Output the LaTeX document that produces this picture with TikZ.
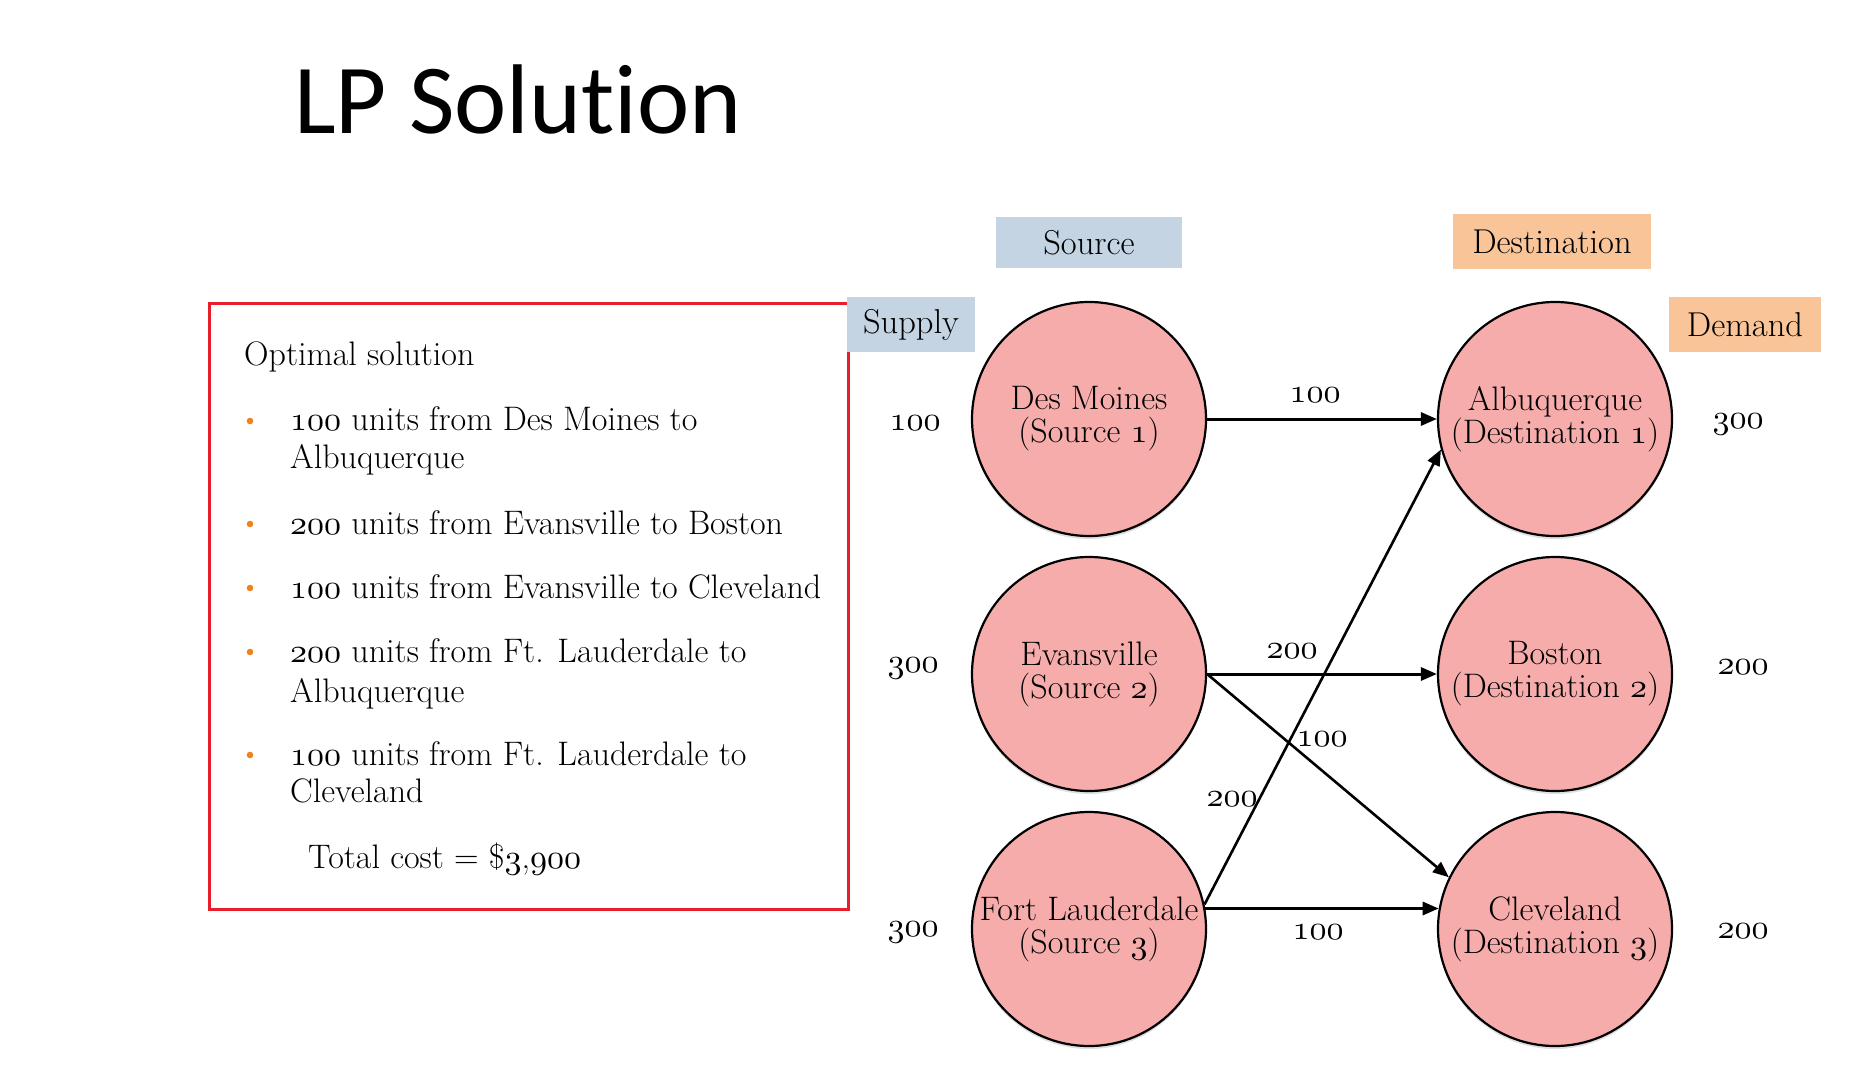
\documentclass[tikz,border=0pt]{standalone}
\usepackage{fontspec}
\newfontfamily\titlefont{Carlito}[Ligatures={NoCommon}]
\usetikzlibrary{arrows.meta,shadows}
\DeclareFontFamily{OML}{myosn}{\skewchar\font127 }
\DeclareFontShape{OML}{myosn}{m}{it}{<-> cmmi10}{}
\DeclareRobustCommand\osn[1]{{\usefont{OML}{myosn}{m}{it}#1}}
\definecolor{nodepink}{RGB}{247,172,172}
\definecolor{hdrblue}{RGB}{196,212,227}
\definecolor{hdrpeach}{RGB}{248,196,152}
\definecolor{boxred}{RGB}{232,30,40}
\definecolor{bulletorange}{RGB}{240,130,30}
\tikzset{
  body/.style={anchor=base west, inner sep=0pt, font=\fontsize{34}{38}\selectfont},
  place/.style={circle, draw=black, line width=2.2pt, fill=nodepink, minimum size=234pt, inner sep=0pt,
    align=center, font=\fontsize{34}{33}\selectfont,
    drop shadow={opacity=0.25, shadow xshift=0pt, shadow yshift=-3pt}},
  hdrbox/.style={inner sep=0pt, font=\fontsize{34.5}{34}\selectfont},
  numlab/.style={inner sep=0pt, font=\fontsize{34}{34}\selectfont},
  flow/.style={line width=3pt, -{Triangle[length=16pt,width=13pt]}},
  diagflow/.style={line width=2.6pt, -{Triangle[length=16pt,width=13pt]}},
  blt/.style={fill=bulletorange}
}
\begin{document}
\begin{tikzpicture}[x=1pt,y=-1pt]
\useasboundingbox (0,0) rectangle (1860,1081);
\fill[white] (0,0) rectangle (1860,1081);

% title
\node[anchor=base west, inner sep=0pt, font=\titlefont\fontsize{99}{99}\selectfont] (title) at (294,133) {LP Solution};

% red box with solution text
\draw[boxred, line width=3pt] (209,303) rectangle (848,909);
\node[body] (opt) at (244,365) {Optimal solution};
\fill[blt] (250,421) circle (3.3);
\node[body] (l1a) at (290,430) {\osn{100} units from Des Moines to};
\node[body] (l1b) at (290,468) {Albuquerque};
\fill[blt] (250,524) circle (3.3);
\node[body] (l2) at (290,534) {\osn{200} units from Evansville to Boston};
\fill[blt] (250,588) circle (3.3);
\node[body] (l3) at (290,598) {\osn{100} units from Evansville to Cleveland};
\fill[blt] (250,652) circle (3.3);
\node[body] (l4a) at (290,662) {\osn{200} units from Ft. Lauderdale to};
\node[body] (l4b) at (290,702) {Albuquerque};
\fill[blt] (250,755) circle (3.3);
\node[body] (l5a) at (290,765) {\osn{100} units from Ft. Lauderdale to};
\node[body] (l5b) at (290,802) {Cleveland};
\node[body] (total) at (308,868) {Total cost = \$\osn{3},\osn{900}};

% header boxes
\node[hdrbox, fill=hdrblue, minimum width=186pt, minimum height=51pt] (srchdr) at (1089,242.5) {Source};
\node[hdrbox, fill=hdrpeach, minimum width=198pt, minimum height=55pt] (dsthdr) at (1552,241.5) {Destination};
\node[hdrbox, fill=hdrblue, minimum width=128pt, minimum height=55pt] (suphdr) at (911,324.5) {Supply};
\node[hdrbox, fill=hdrpeach, minimum width=152pt, minimum height=55pt] (demhdr) at (1745,324.5) {Demand};

% network nodes
\node[place] (dm) at (1089,419) {Des Moines\\(Source \osn{1})};
\node[place] (ev) at (1089,674) {Evansville\\(Source \osn{2})};
\node[place] (fl) at (1089,929) {Fort Lauderdale\\(Source \osn{3})};
\node[place] (alb) at (1555,419) {Albuquerque\\(Destination \osn{1})};
\node[place] (bos) at (1555,674) {Boston\\(Destination \osn{2})};
\node[place] (cle) at (1555,929) {Cleveland\\(Destination \osn{3})};

% supply and demand numbers
\node[numlab] (s1) at (915,423) {\osn{100}};
\node[numlab] (s2) at (913,668) {\osn{300}};
\node[numlab] (s3) at (913,932) {\osn{300}};
\node[numlab] (d1) at (1738,424) {\osn{300}};
\node[numlab] (d2) at (1743,667) {\osn{200}};
\node[numlab] (d3) at (1743,931) {\osn{200}};

% flows
\draw[flow] (dm.east) -- (alb.west);
\draw[flow] (ev.east) -- (bos.west);
\draw[diagflow] (ev.east) -- (cle.154);
\draw[diagflow] (fl.12) -- (alb.195);
\draw[flow] (fl.10) -- (cle.170);

% flow labels
\node[numlab] (f1) at (1315,395) {\osn{100}};
\node[numlab] (f2) at (1292,651) {\osn{200}};
\node[numlab] (f3) at (1322,739) {\osn{100}};
\node[numlab] (f4) at (1232,799) {\osn{200}};
\node[numlab] (f5) at (1318,932) {\osn{100}};
\end{tikzpicture}
\end{document}
